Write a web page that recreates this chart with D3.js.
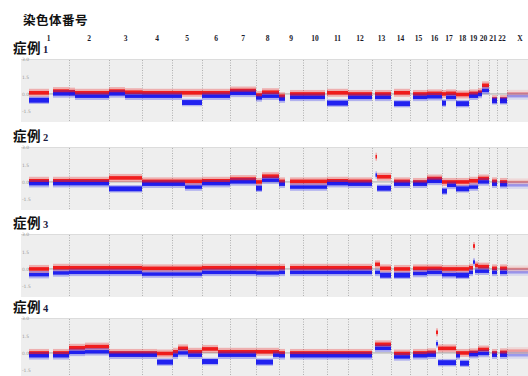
<!DOCTYPE html>
<html>
<head>
<meta charset="utf-8">
<script src="https://cdn.jsdelivr.net/npm/d3@7/dist/d3.min.js"></script>
<style>
  body { margin: 0; background: #fff; }
  svg { display: block; }
</style>
</head>
<body>
<svg id="chart"></svg>
<script>
"use strict";

// chromosome names and widths (genome units)
const chromNames = ["1","2","3","4","5","6","7","8","9","10","11","12",
  "13","14","15","16","17","18","19","20","21","22","X"];
const chromSizes = [41,40,33,30,30,28,26,23,24,24,21,24,19,19,17,15,14,13,9,11,8,10,26];

const yTicks = [3.0, 1.5, 0.0, -1.5];
const yTickLabels = ["3.0", "1.5", "0.0", "-1.5"];
const caseNumbers = ["1", "2", "3", "4"];

// segments: [start, end, red level, blue level] in genome units
const case1 = [
  [1,21,0.1,-0.55],[25,41,0.25,0.0],[41,47,0.2,0.0],[47,81,0.1,-0.2],
  [81,97,0.25,0.0],[97,114,0.15,-0.2],[114,144,0.1,-0.2],[144,154,0.1,-0.2],
  [154,174,0.1,-0.75],[174,202,0.1,-0.2],[202,228,0.3,0.05],[228,234,-0.1,-0.35],
  [234,251,0.15,-0.2],[251,257,-0.2,-0.45],[262,275,0.0,-0.3],[275,297,0.0,-0.3],
  [299,320,0.1,-0.8],[320,344,0.0,-0.3],[347,363,0.0,-0.3],[366,382,0.1,-0.85],
  [385,399,0.0,-0.3],[399,414,0.05,-0.25],[414,418,0.0,-0.8],[418,428,0.05,-0.3],
  [428,441,-0.05,-0.85],[441,450,0.05,-0.2],[450,454,0.15,-0.05],[454,461,0.75,0.3],
  [464,469,-0.45,-0.6],[472,479,-0.45,-0.6]
];
const case2 = [
  [1,21,0.1,-0.15],[25,41,0.1,-0.15],[41,81,0.1,-0.15],[81,114,0.35,-0.6],
  [114,144,0.05,-0.2],[144,157,0.05,-0.2],[157,174,0.05,-0.45],[174,202,0.1,-0.15],
  [202,228,0.25,0.0],[228,234,0.0,-0.55],[234,251,0.5,0.15],[251,257,0.05,-0.2],
  [262,275,0.05,-0.45],[275,299,0.05,-0.45],[299,320,0.1,-0.15],[320,344,0.05,-0.2],
  [347.5,349,2.2,0.6],[349,363,0.45,-0.55],[366,382,0.05,-0.2],[385,399,0.0,-0.2],
  [399,414,0.3,0.05],[414,419,0.0,-0.8],[419,428,0.0,-0.3],[428,441,0.0,-0.6],
  [441,450,0.1,-0.45],[450,461,0.3,0.0],[464,469,0.05,-0.2],[472,479,0.0,-0.25]
];
const case3 = [
  [1,21,0.0,-0.5],[25,41,0.1,-0.35],[41,81,0.1,-0.3],[81,114,0.1,-0.3],
  [114,144,0.05,-0.45],[144,174,0.05,-0.45],[174,202,0.1,-0.3],[202,228,0.1,-0.3],
  [228,251,0.1,-0.35],[251,257,0.1,-0.3],[262,275,0.1,-0.3],[275,299,0.1,-0.3],
  [299,320,0.1,-0.3],[320,344,0.1,-0.3],[347,352,0.4,-0.3],[352,363,0.05,-0.55],
  [366,382,0.0,-0.55],[385,399,0.05,-0.4],[399,414,0.05,-0.3],[414,428,0.0,-0.5],
  [428,441,0.0,-0.55],[441,445,0.1,-0.3],[445,447,2.0,0.6],[447,450,0.3,-0.2],
  [450,461,0.2,-0.2],[464,469,0.05,-0.3],[472,479,0.05,-0.3]
];
const case4 = [
  [1,21,0.0,-0.25],[25,41,0.0,-0.25],[41,57,0.45,0.05],[57,81,0.55,0.1],
  [81,114,0.0,-0.2],[114,129,0.0,-0.2],[129,145,-0.05,-0.8],[145,150,0.1,-0.2],
  [150,160,0.4,0.0],[160,174,0.1,-0.2],[174,190,0.35,-0.75],[190,202,0.1,-0.2],
  [202,228,0.1,-0.2],[228,245,0.1,-0.8],[245,251,0.1,-0.2],[251,257,0.0,-0.25],
  [262,275,0.0,-0.25],[275,299,0.0,-0.25],[299,320,0.0,-0.25],[320,344,0.0,-0.25],
  [347,363,0.75,0.4],[366,382,-0.05,-0.35],[385,399,0.0,-0.25],[399,408,0.05,-0.2],
  [408,410,1.8,0.8],[410,428,0.4,-0.85],[428,432,0.0,-0.25],[432,441,0.0,-0.9],
  [441,450,0.05,-0.15],[450,461,0.3,-0.05],[464,469,0.0,-0.2],[472,479,0.05,-0.2]
];
const caseX = [[479,505,0.05,-0.2],[479,505,0.0,-0.3],[479,505,0.0,-0.3],[479,505,0.2,-0.2]];
const cases = [case1, case2, case3, case4];

const svgWidth = 528;
const svgHeight = 376;
const panelLeft = 21;
const panelHeight = 63;
const panelTops = [59, 147, 234, 318];

const svg = d3.select("#chart")
  .attr("width", svgWidth)
  .attr("height", svgHeight)
;

const total = d3.sum(chromSizes);
const bounds = d3.cumsum(chromSizes);
const starts = bounds.map((b, i) => b - chromSizes[i]);

const xScale = d3.scaleLinear()
  .domain([0, total])
  .range([28, 533])
;
const yScale = d3.scaleLinear()
  .domain([-2.45, 3.05])
  .range([panelHeight, 0])
;

svg.append("text")
  .attr("x", 23)
  .attr("y", 25)
  .attr("font-family", "'Noto Sans CJK JP', sans-serif")
  .attr("font-weight", "bold")
  .attr("font-size", 12.5)
  .attr("letter-spacing", 0.5)
  .attr("fill", "#111")
  .text("染色体番号")
;

// chromosome numbers on top
svg.append("g")
  .selectAll("text")
  .data(chromNames)
  .join("text")
  .attr("x", (d, i) => xScale(starts[i] + chromSizes[i] / 2))
  .attr("y", 40.5)
  .attr("text-anchor", "middle")
  .attr("font-family", "'Liberation Serif', serif")
  .attr("font-weight", "bold")
  .attr("font-size", 7.5)
  .attr("fill", "#1a1a2a")
  .text(d => d)
;

cases.forEach((segs, k) => {
  const top = panelTops[k];
  const label = svg.append("text")
    .attr("x", 13)
    .attr("y", top - 6.5)
    .attr("fill", "#111")
  ;
  label.append("tspan")
    .attr("font-family", "'Noto Sans CJK JP', sans-serif")
    .attr("font-weight", "bold")
    .attr("font-size", 13.5)
    .attr("letter-spacing", 0.5)
    .text("症例")
  ;
  label.append("tspan")
    .attr("dx", 2)
    .attr("font-family", "'Liberation Serif', serif")
    .attr("font-weight", "bold")
    .attr("font-size", 10.5)
    .attr("fill", "#1a1a40")
    .text(caseNumbers[k])
  ;

  const g = svg.append("g")
    .attr("transform", `translate(0, ${top})`)
  ;

  g.append("rect")
    .attr("x", panelLeft)
    .attr("y", 0)
    .attr("width", svgWidth - panelLeft)
    .attr("height", panelHeight)
    .attr("fill", "#eeeeee")
  ;
  g.append("line")
    .attr("x1", panelLeft)
    .attr("x2", svgWidth)
    .attr("y1", 0.5)
    .attr("y2", 0.5)
    .attr("stroke", "#dcdcdc")
  ;

  // chromosome boundaries
  g.selectAll("line.sep")
    .data(bounds.slice(0, bounds.length - 1))
    .join("line")
    .attr("class", "sep")
    .attr("x1", d => Math.round(xScale(d)) + 0.5)
    .attr("x2", d => Math.round(xScale(d)) + 0.5)
    .attr("y1", 1)
    .attr("y2", panelHeight)
    .attr("stroke", "#a8a8a8")
    .attr("stroke-width", 0.9)
    .attr("stroke-dasharray", "1,1.5")
  ;

  // zero line
  g.append("line")
    .attr("x1", xScale(0))
    .attr("x2", svgWidth)
    .attr("y1", yScale(0))
    .attr("y2", yScale(0))
    .attr("stroke", "#8a8a8a")
    .attr("stroke-width", 0.7)
  ;

  g.selectAll("text.tick")
    .data(yTicks)
    .join("text")
    .attr("class", "tick")
    .attr("x", 22)
    .attr("y", d => yScale(d) + 1.8)
    .attr("font-family", "'DejaVu Sans', sans-serif")
    .attr("font-size", 4.5)
    .attr("fill", "#9a9a9a")
    .text((d, i) => yTickLabels[i])
  ;

  const drawBand = (rows, idx, color, core, halo, op) => {
    g.append("g")
      .selectAll("rect")
      .data(rows)
      .join("rect")
      .attr("x", d => xScale(d[0]))
      .attr("width", d => xScale(d[1]) - xScale(d[0]))
      .attr("y", d => yScale(d[idx]) - halo / 2)
      .attr("height", halo)
      .attr("fill", color)
      .attr("opacity", 0.28 * op)
    ;
    g.append("g")
      .selectAll("rect")
      .data(rows)
      .join("rect")
      .attr("x", d => xScale(d[0]))
      .attr("width", d => xScale(d[1]) - xScale(d[0]))
      .attr("y", d => yScale(d[idx]) - (d[idx] < -0.5 && idx === 3 ? core + 1.5 : core) / 2)
      .attr("height", d => (d[idx] < -0.5 && idx === 3 ? core + 1.5 : core))
      .attr("fill", color)
      .attr("opacity", 0.92 * op)
    ;
  };

  drawBand(segs, 2, "#f01010", 3.6, 8, 1);
  drawBand(segs, 3, "#1515f0", 3.4, 7.5, 1);
  drawBand([caseX[k]], 2, "#f03030", 2.5, 7, 0.4);
  drawBand([caseX[k]], 3, "#3030f0", 2.5, 7, 0.4);
});
</script>
</body>
</html>
